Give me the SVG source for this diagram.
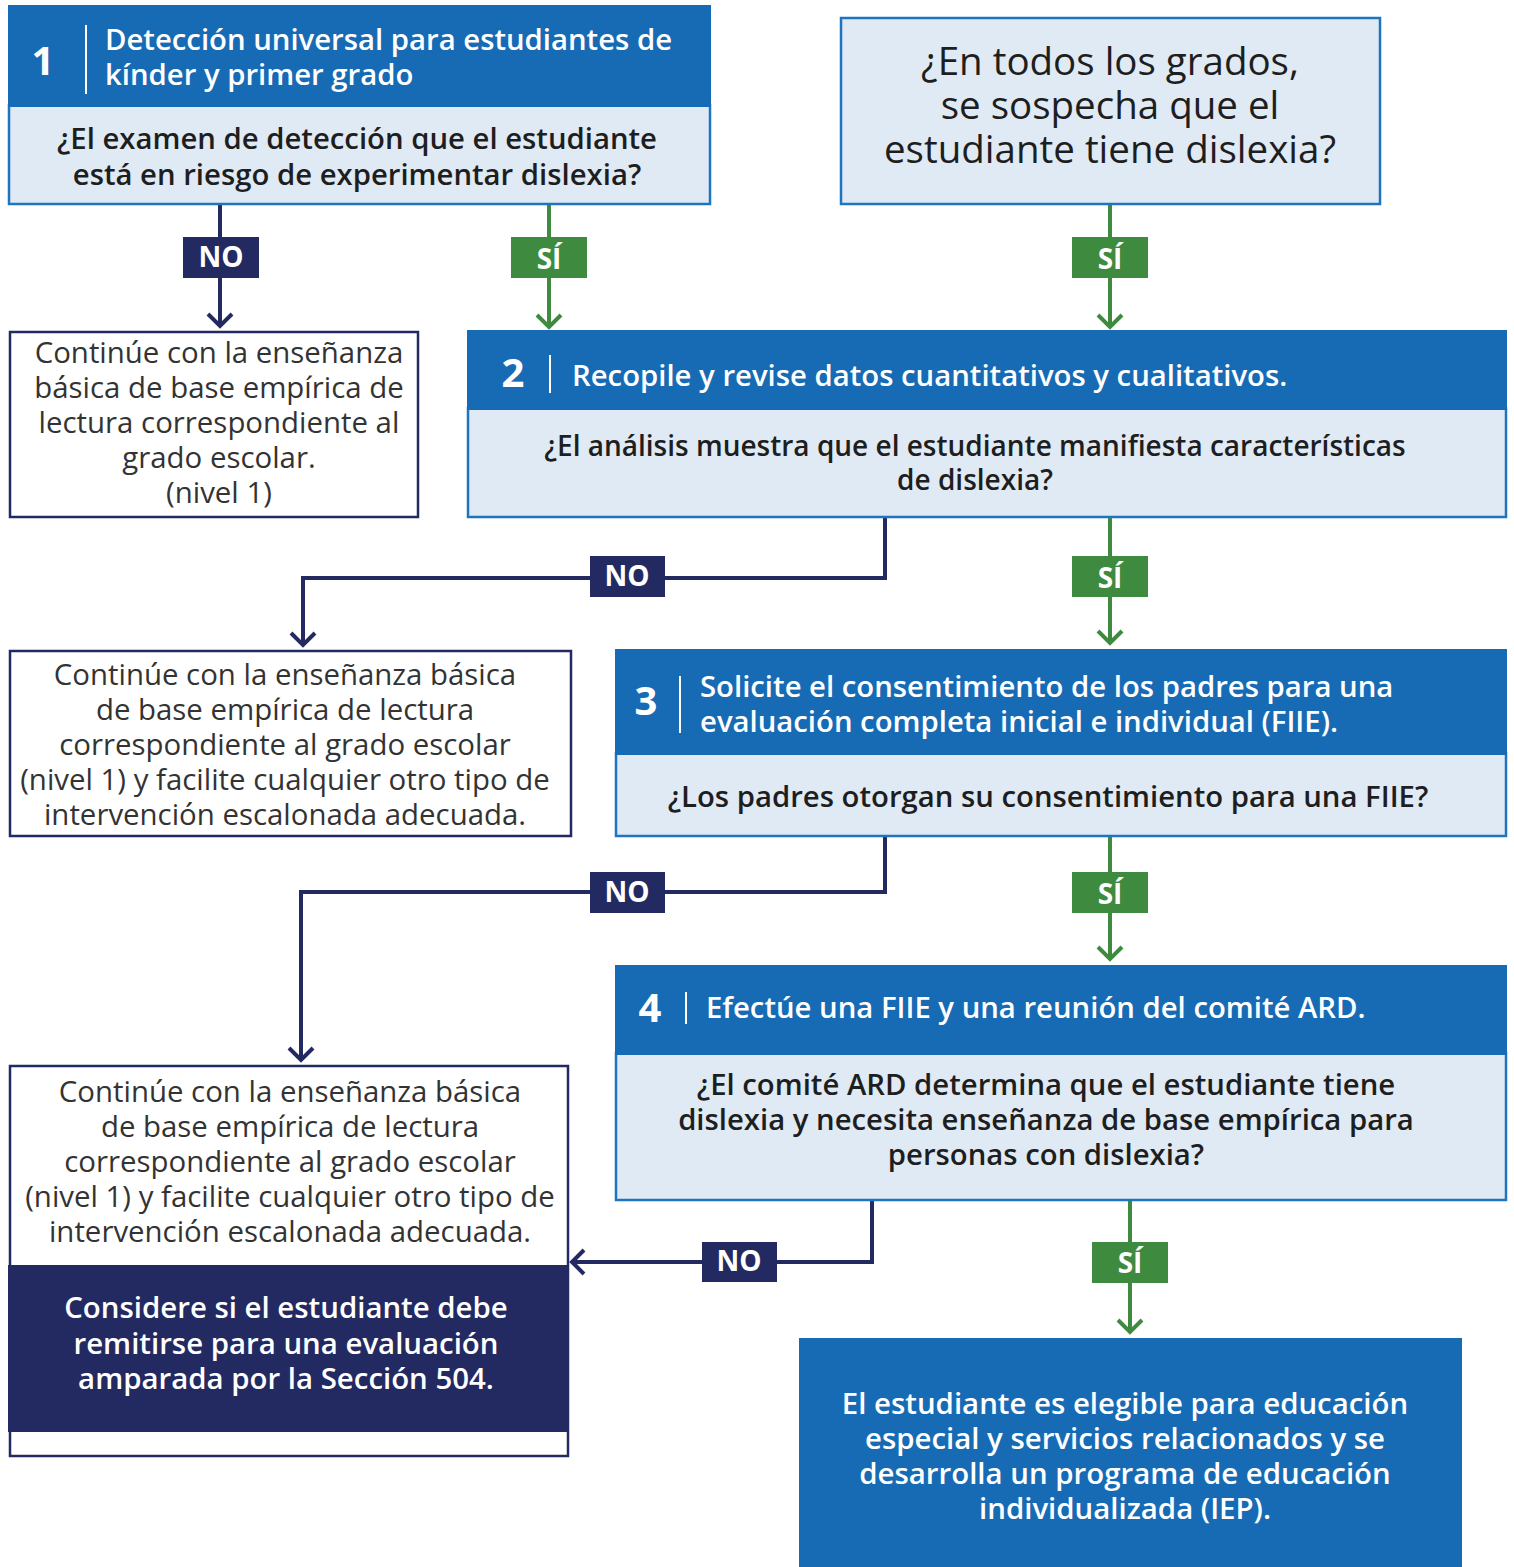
<svg xmlns="http://www.w3.org/2000/svg" width="1514" height="1567" viewBox="0 0 1514 1567">
<style>
  .hdr { fill: #176bb5; }
  .q { fill: #dfeaf5; stroke: #1f74bf; stroke-width: 2.5; }
  .out { fill: #ffffff; stroke: #232a62; stroke-width: 2.5; }
  .num { font-family: "Open Sans", "Liberation Sans", sans-serif; font-weight: 700; font-size: 40px; fill: #ffffff; }
  .sep { stroke: #ffffff; stroke-width: 2; }
  .ttl { font-family: "Open Sans", "Liberation Sans", sans-serif; font-weight: 600; font-size: 29.3px; fill: #ffffff; }
  .qt { font-family: "Open Sans", "Liberation Sans", sans-serif; font-weight: 600; font-size: 29.3px; fill: #1e1e1e; text-anchor: middle; }
  .big { font-family: "Open Sans", "Liberation Sans", sans-serif; font-weight: 500; font-size: 38.5px; fill: #1e1e1e; text-anchor: middle; }
  .bt { font-family: "Open Sans", "Liberation Sans", sans-serif; font-weight: 400; font-size: 29.4px; fill: #333333; text-anchor: middle; }
  .wt { font-family: "Open Sans", "Liberation Sans", sans-serif; font-weight: 600; font-size: 29.4px; fill: #ffffff; text-anchor: middle; }
  .lbl { font-family: "Open Sans", "Liberation Sans", sans-serif; font-weight: 700; font-size: 28px; fill: #ffffff; text-anchor: middle; }
  .no { stroke: #232a62; stroke-width: 4; fill: none; }
  .si { stroke: #3e8b3f; stroke-width: 4; fill: none; }
  .nobox { fill: #232a62; }
  .sibox { fill: #3e8b3f; }
</style>
<defs>
  <marker id="arrNo" markerUnits="userSpaceOnUse" markerWidth="30" markerHeight="30" viewBox="-15 -15 30 30" refX="0" refY="0" orient="auto">
    <path d="M -12 -12 L 0 0 L -12 12" fill="none" stroke="#232a62" stroke-width="4"/>
  </marker>
  <marker id="arrSi" markerUnits="userSpaceOnUse" markerWidth="30" markerHeight="30" viewBox="-15 -15 30 30" refX="0" refY="0" orient="auto">
    <path d="M -12 -12 L 0 0 L -12 12" fill="none" stroke="#3e8b3f" stroke-width="4"/>
  </marker>
</defs>

<g id="connectors">
  <path class="no" d="M 220 204 L 220 326" marker-end="url(#arrNo)"/>
  <rect class="nobox" x="183" y="237" width="76" height="41"/>
  <text class="lbl" x="221" y="267">NO</text>

  <path class="si" d="M 549 204 L 549 327" marker-end="url(#arrSi)"/>
  <rect class="sibox" x="511" y="237" width="76" height="41"/>
  <text class="lbl" x="549" y="269">SÍ</text>

  <path class="si" d="M 1110 204 L 1110 327" marker-end="url(#arrSi)"/>
  <rect class="sibox" x="1072" y="237" width="76" height="41"/>
  <text class="lbl" x="1110" y="269">SÍ</text>

  <path class="no" d="M 885 517 L 885 578 L 303 578 L 303 645" marker-end="url(#arrNo)"/>
  <rect class="nobox" x="590" y="556" width="75" height="41"/>
  <text class="lbl" x="627" y="586">NO</text>

  <path class="si" d="M 1110 517 L 1110 643" marker-end="url(#arrSi)"/>
  <rect class="sibox" x="1072" y="556" width="76" height="41"/>
  <text class="lbl" x="1110" y="588">SÍ</text>

  <path class="no" d="M 885 836 L 885 892 L 301 892 L 301 1060" marker-end="url(#arrNo)"/>
  <rect class="nobox" x="590" y="872" width="75" height="41"/>
  <text class="lbl" x="627" y="902">NO</text>

  <path class="si" d="M 1110 836 L 1110 959" marker-end="url(#arrSi)"/>
  <rect class="sibox" x="1072" y="872" width="76" height="41"/>
  <text class="lbl" x="1110" y="904">SÍ</text>

  <path class="no" d="M 872 1200 L 872 1262 L 572 1262" marker-end="url(#arrNo)"/>
  <rect class="nobox" x="702" y="1242" width="75" height="40"/>
  <text class="lbl" x="739" y="1271">NO</text>

  <path class="si" d="M 1130 1200 L 1130 1332" marker-end="url(#arrSi)"/>
  <rect class="sibox" x="1092" y="1242" width="76" height="41"/>
  <text class="lbl" x="1130" y="1273">SÍ</text>
</g>

<g id="step1">
  <rect class="q" x="9" y="105" width="701" height="99"/>
  <rect class="hdr" x="8" y="5" width="703" height="102"/>
  <text class="num" x="43" y="75" text-anchor="middle">1</text>
  <line class="sep" x1="86" y1="25" x2="86" y2="94"/>
  <text class="ttl" x="105" y="50">Detección universal para estudiantes de</text>
  <text class="ttl" x="105" y="85">kínder y primer grado</text>
  <text class="qt" x="357" y="149">¿El examen de detección que el estudiante</text>
  <text class="qt" x="357" y="185">está en riesgo de experimentar dislexia?</text>
</g>

<g id="all-grades">
  <rect class="q" x="841" y="18" width="539" height="186"/>
  <text class="big" x="1110" y="75">¿En todos los grados,</text>
  <text class="big" x="1110" y="119">se sospecha que el</text>
  <text class="big" x="1110" y="163">estudiante tiene dislexia?</text>
</g>

<g id="continue1">
  <rect class="out" x="10" y="332" width="408" height="185"/>
  <text class="bt" x="219" y="363">Continúe con la enseñanza</text>
  <text class="bt" x="219" y="398">básica de base empírica de</text>
  <text class="bt" x="219" y="433">lectura correspondiente al</text>
  <text class="bt" x="219" y="468">grado escolar.</text>
  <text class="bt" x="219" y="503">(nivel 1)</text>
</g>

<g id="step2">
  <rect class="q" x="468" y="408" width="1038" height="109"/>
  <rect class="hdr" x="467" y="330" width="1040" height="80"/>
  <text class="num" x="513" y="387" text-anchor="middle">2</text>
  <line class="sep" x1="550" y1="355" x2="550" y2="393"/>
  <text class="ttl" x="572" y="386">Recopile y revise datos cuantitativos y cualitativos.</text>
  <text class="qt" x="975" y="456" style="font-size:28px">¿El análisis muestra que el estudiante manifiesta características</text>
  <text class="qt" x="975" y="490" style="font-size:28px">de dislexia?</text>
</g>

<g id="continue2">
  <rect class="out" x="10" y="651" width="561" height="185"/>
  <text class="bt" x="285" y="685">Continúe con la enseñanza básica</text>
  <text class="bt" x="285" y="720">de base empírica de lectura</text>
  <text class="bt" x="285" y="755">correspondiente al grado escolar</text>
  <text class="bt" x="285" y="790">(nivel 1) y facilite cualquier otro tipo de</text>
  <text class="bt" x="285" y="825">intervención escalonada adecuada.</text>
</g>

<g id="step3">
  <rect class="q" x="616" y="753" width="890" height="83"/>
  <rect class="hdr" x="615" y="649" width="892" height="106"/>
  <text class="num" x="646" y="715" text-anchor="middle">3</text>
  <line class="sep" x1="680" y1="676" x2="680" y2="733"/>
  <text class="ttl" x="700" y="697">Solicite el consentimiento de los padres para una</text>
  <text class="ttl" x="700" y="732">evaluación completa inicial e individual (FIIE).</text>
  <text class="qt" x="1048" y="807">¿Los padres otorgan su consentimiento para una FIIE?</text>
</g>

<g id="step4">
  <rect class="q" x="616" y="1053" width="890" height="147"/>
  <rect class="hdr" x="615" y="965" width="892" height="90"/>
  <text class="num" x="650" y="1022" text-anchor="middle">4</text>
  <line class="sep" x1="686" y1="992" x2="686" y2="1024"/>
  <text class="ttl" x="706" y="1018">Efectúe una FIIE y una reunión del comité ARD.</text>
  <text class="qt" x="1046" y="1095">¿El comité ARD determina que el estudiante tiene</text>
  <text class="qt" x="1046" y="1130">dislexia y necesita enseñanza de base empírica para</text>
  <text class="qt" x="1046" y="1165">personas con dislexia?</text>
</g>

<g id="continue3">
  <rect class="out" x="10" y="1066" width="558" height="390"/>
  <text class="bt" x="290" y="1102">Continúe con la enseñanza básica</text>
  <text class="bt" x="290" y="1137">de base empírica de lectura</text>
  <text class="bt" x="290" y="1172">correspondiente al grado escolar</text>
  <text class="bt" x="290" y="1207">(nivel 1) y facilite cualquier otro tipo de</text>
  <text class="bt" x="290" y="1242">intervención escalonada adecuada.</text>
  <rect x="8" y="1265" width="561" height="167" fill="#232a62"/>
  <text class="wt" x="286" y="1318">Considere si el estudiante debe</text>
  <text class="wt" x="286" y="1354">remitirse para una evaluación</text>
  <text class="wt" x="286" y="1389">amparada por la Sección 504.</text>
</g>

<g id="eligible">
  <rect class="hdr" x="799" y="1338" width="663" height="229"/>
  <text class="wt" x="1125" y="1414">El estudiante es elegible para educación</text>
  <text class="wt" x="1125" y="1449">especial y servicios relacionados y se</text>
  <text class="wt" x="1125" y="1484">desarrolla un programa de educación</text>
  <text class="wt" x="1125" y="1519">individualizada (IEP).</text>
</g>
</svg>
